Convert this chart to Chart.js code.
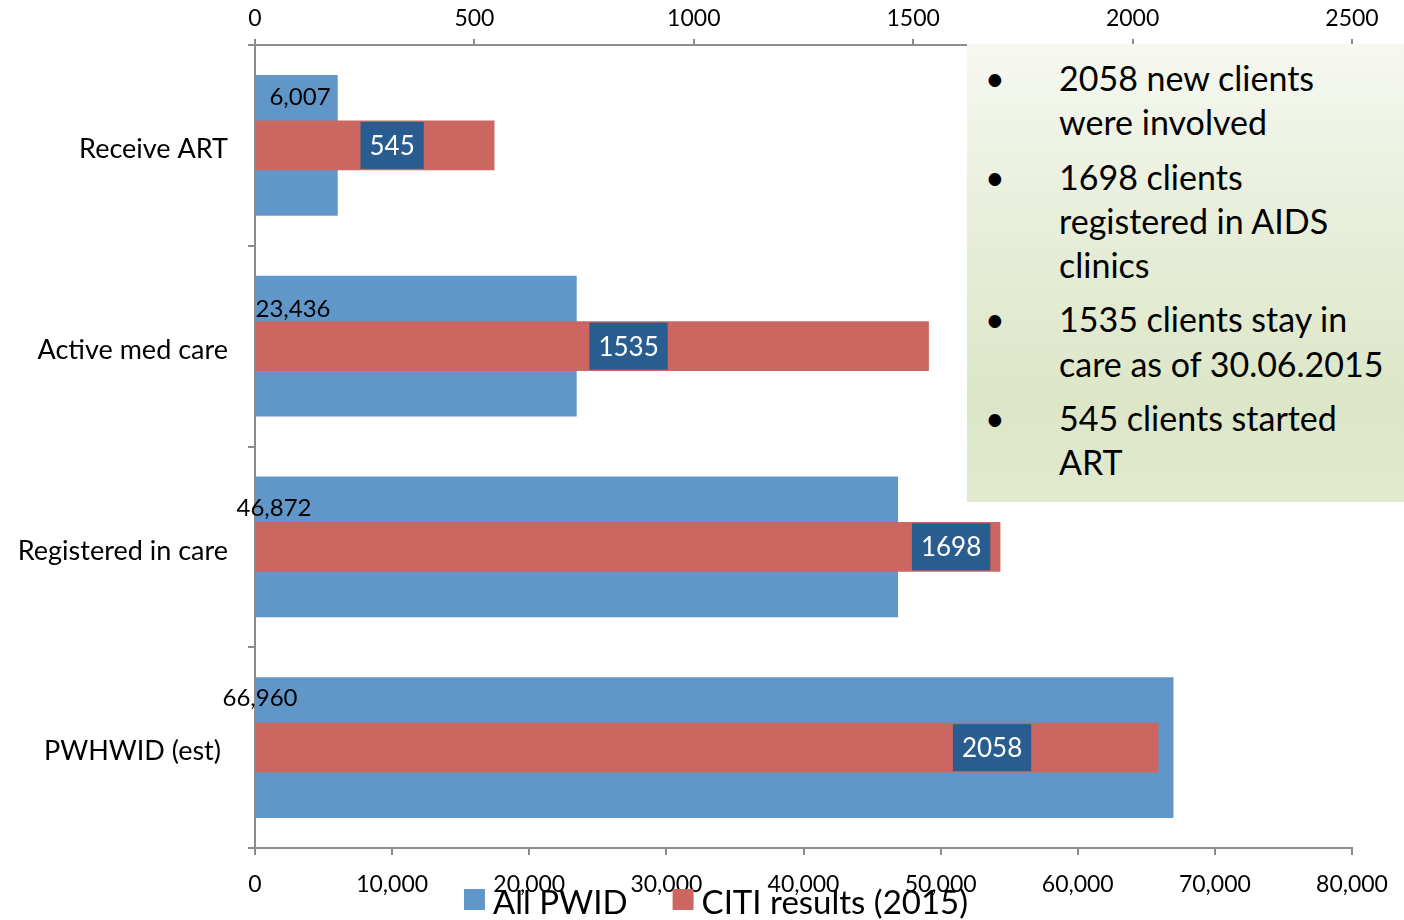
<!DOCTYPE html>
<html>
<head>
<meta charset="utf-8">
<script src="https://cdn.jsdelivr.net/npm/chart.js@4.4.0/dist/chart.umd.min.js"></script>
<style>
  html, body { margin: 0; padding: 0; background: #ffffff; }
  #wrap { position: relative; width: 1404px; height: 920px; overflow: hidden; }
  #chart { position: absolute; left: 0; top: 0; }
  #notes {
    position: absolute; left: 967px; top: 44px; width: 437px; height: 458px;
    background: linear-gradient(to bottom, #f6f8f1 0%, #e9efdc 35%, #dce6c7 78%, #e2eacf 100%);
    font-family: Lato, "Open Sans", sans-serif; font-size: 34px; color: #000;
    box-sizing: border-box; padding-top: 12px;
  }
  .item { position: relative; padding-left: 92px; line-height: 44.3px; margin-bottom: 10px; }
  .item::before { content: "\2022"; position: absolute; left: 18px; top: 0; }
</style>
</head>
<body>
<div id="wrap">
  <canvas id="chart" width="1404" height="920"></canvas>
  <div id="notes">
    <div class="item">2058 new clients<br>were involved</div>
    <div class="item">1698 clients<br>registered in AIDS<br>clinics</div>
    <div class="item">1535 clients stay in<br>care as of 30.06.2015</div>
    <div class="item">545 clients started<br>ART</div>
  </div>
</div>
<script>
// Care cascade categories, top to bottom
const categories = ['Receive ART', 'Active med care', 'Registered in care', 'PWHWID (est)'];
// People who inject drugs, all (bottom axis)
const allPwid = [6007, 23436, 46872, 66960];
// CITI programme results 2015 (top axis)
const citiResults = [545, 1535, 1698, 2058];
const seriesNames = ['All PWID', 'CITI results (2015)'];
const bottomTicks = [0, 10000, 20000, 30000, 40000, 50000, 60000, 70000, 80000];
const topTicks = [0, 500, 1000, 1500, 2000, 2500];

const FONT = 'Lato, "Open Sans", sans-serif';
const BLUE = '#6196c9';
const RED = '#cc6660';
const TAG = '#2a5d8f';
const AXIS = '#8c8c8c';

// label placement tweaks (pixels), in category order
const blueLabelShift = [[44, 22], [37, 33], [18, 31], [4, 21]];
const redTagShift = [-102, -300, -49, -166];
const categoryLabelRight = [228, 228, 228, 221];

const valueLabels = {
  id: 'valueLabels',
  afterDatasetsDraw(chart) {
    const ctx = chart.ctx;
    ctx.save();
    // blue values near the top-left of each wide bar
    const mb = chart.getDatasetMeta(0);
    ctx.font = '24px ' + FONT;
    ctx.fillStyle = '#000';
    ctx.textAlign = 'center';
    ctx.textBaseline = 'middle';
    mb.data.forEach((bar, i) => {
      const top = bar.y - bar.height / 2;
      ctx.fillText(allPwid[i].toLocaleString('en-US'), bar.base + blueLabelShift[i][0], top + blueLabelShift[i][1]);
    });
    // red values in dark tags on the narrow bars
    const mr = chart.getDatasetMeta(1);
    ctx.font = '26px ' + FONT;
    mr.data.forEach((bar, i) => {
      const txt = String(citiResults[i]);
      const w = ctx.measureText(txt).width + 18;
      const h = bar.height - 2;
      const cx = bar.x + redTagShift[i];
      ctx.fillStyle = TAG;
      ctx.fillRect(cx - w / 2, bar.y - h / 2, w, h);
      ctx.fillStyle = '#fff';
      ctx.fillText(txt, cx, bar.y + 1);
    });
    ctx.restore();
  },
  afterDraw(chart) {
    const ctx = chart.ctx;
    ctx.save();
    // category names beside the left axis
    const ys = chart.scales.y;
    ctx.font = '27px ' + FONT;
    ctx.fillStyle = '#000';
    ctx.textAlign = 'right';
    ctx.textBaseline = 'middle';
    categories.forEach((c, i) => {
      ctx.fillText(c, categoryLabelRight[i], ys.getPixelForValue(i) + 4);
    });
    // legend along the bottom edge
    ctx.font = '33px ' + FONT;
    ctx.textAlign = 'left';
    const items = chart.data.datasets.map(d => ({ text: d.label, color: d.backgroundColor }));
    const box = 21, gap = 8, spacing = 45;
    const widths = items.map(it => box + gap + ctx.measureText(it.text).width);
    const total = widths.reduce((a, b) => a + b, 0) + spacing * (items.length - 1);
    let x = 716 - total / 2;
    const y = 901;
    items.forEach((it, i) => {
      ctx.fillStyle = it.color;
      ctx.fillRect(x, y - 12, box, box);
      ctx.fillStyle = '#000';
      ctx.fillText(it.text, x + box + gap, y + 2);
      x += widths[i] + spacing;
    });
    ctx.restore();
  }
};

new Chart(document.getElementById('chart'), {
  type: 'bar',
  data: {
    labels: categories,
    datasets: [
      { label: seriesNames[0], data: allPwid, xAxisID: 'xBottom', backgroundColor: BLUE,
        barThickness: 140, grouped: false, order: 2 },
      { label: seriesNames[1], data: citiResults, xAxisID: 'xTop', backgroundColor: RED,
        barThickness: 49, grouped: false, order: 1 }
    ]
  },
  options: {
    indexAxis: 'y',
    responsive: false,
    animation: false,
    devicePixelRatio: 1,
    layout: { padding: { left: 0, right: 52, top: 0, bottom: 0 } },
    plugins: { legend: { display: false }, tooltip: { enabled: false } },
    scales: {
      y: {
        type: 'category',
        z: 1,
        border: { color: AXIS, width: 2 },
        grid: { display: true, drawOnChartArea: false, drawTicks: true, tickLength: 7, color: AXIS, lineWidth: 2, offset: true },
        ticks: { color: 'rgba(0,0,0,0)', font: { family: FONT, size: 27 }, padding: 20 },
        afterFit(s) { s.width = 255; }
      },
      xTop: {
        type: 'linear',
        position: 'top',
        min: 0, max: 2500,
        afterBuildTicks(s) { s.ticks = topTicks.map(v => ({ value: v })); },
        border: { color: AXIS, width: 2 },
        grid: { drawOnChartArea: false, drawTicks: true, tickLength: 6, color: AXIS, lineWidth: 2 },
        ticks: { color: '#000', font: { family: FONT, size: 23 }, padding: 7,
                 callback: v => String(v) },
        afterFit(s) { s.height = 45; }
      },
      xBottom: {
        type: 'linear',
        position: 'bottom',
        min: 0, max: 80000,
        afterBuildTicks(s) { s.ticks = bottomTicks.map(v => ({ value: v })); },
        border: { color: AXIS, width: 2 },
        grid: { drawOnChartArea: false, drawTicks: true, tickLength: 7, color: AXIS, lineWidth: 2 },
        ticks: { color: '#000', font: { family: FONT, size: 23 }, padding: 16,
                 callback: v => v.toLocaleString('en-US') },
        afterFit(s) { s.height = 72; }
      }
    }
  },
  plugins: [valueLabels]
});
</script>
</body>
</html>
